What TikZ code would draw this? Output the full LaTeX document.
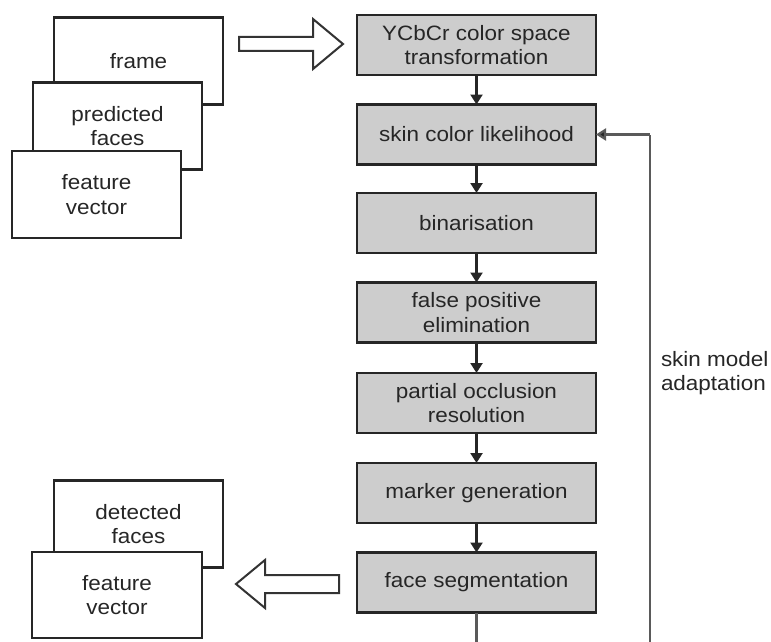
\documentclass[tikz,border=0pt]{standalone}
\usepackage{fontspec}
\setmainfont[FakeStretch=1.08]{Liberation Sans}
\usetikzlibrary{arrows.meta}
\definecolor{boxgray}{RGB}{205,205,205}
\definecolor{txt}{RGB}{38,38,38}
\definecolor{loopgray}{RGB}{90,90,90}
\begin{document}
\begin{tikzpicture}[x=1pt,y=-1pt,
  every node/.style={font=\fontsize{20.8}{24.5}\selectfont, text=txt, align=center, inner sep=0pt, outer sep=0pt},
  stage/.style={draw=black!85, line width=2.6pt, fill=boxgray, minimum width=239pt, minimum height=60pt},
  sheet/.style={draw=black!85, line width=2.6pt, fill=white, minimum width=169pt, minimum height=87pt},
  flow/.style={draw=black!85, line width=2.2pt, -{Triangle[length=10pt,width=12pt]}},
  blockarrow/.style={draw=black!80, line width=2pt, fill=white, line join=miter}]
\useasboundingbox (0,0) rectangle (771,642);
\fill[white] (0,0) rectangle (771,642);

% input sheets, stacked back to front
\node[sheet] (frame) at (138.5,61) {frame};
\node[sheet] (pred) at (117.5,126) {predicted\\faces};
\node[sheet] (feat) at (96.5,194.5) {feature\\vector};

% output sheets
\node[sheet] (det) at (138.5,524) {detected\\faces};
\node[sheet, minimum width=170pt, minimum height=86pt] (featout) at (117,595) {feature\\vector};

% processing chain
\node[stage] (ycc)  at (476.5,45)    {YCbCr color space\\transformation};
\node[stage] (skin) at (476.5,134.5) {skin color likelihood};
\node[stage] (bin)  at (476.5,223)   {binarisation};
\node[stage] (fpe)  at (476.5,312.5) {false positive\\elimination};
\node[stage] (poc)  at (476.5,403)   {partial occlusion\\resolution};
\node[stage] (mark) at (476.5,493)   {marker generation};
\node[stage] (seg)  at (476.5,582.5) {face segmentation};

\draw[flow] (ycc) -- (skin);
\draw[flow] (skin) -- (bin);
\draw[flow] (bin) -- (fpe);
\draw[flow] (fpe) -- (poc);
\draw[flow] (poc) -- (mark);
\draw[flow] (mark) -- (seg);

% hollow block arrows: input in, result out
\draw[blockarrow] (239,37) -- (313,37) -- (313,19) -- (343,44) -- (313,69) -- (313,51) -- (239,51) -- cycle;
\draw[blockarrow] (339,575) -- (265,575) -- (265,560) -- (236,584) -- (265,608) -- (265,593) -- (339,593) -- cycle;

% skin model adaptation loop
\coordinate (loopbottom) at (650,665);
\coordinate (loopright) at (650,134.5);
\begin{scope}
\clip (0,0) rectangle (771,642);
\draw[draw=loopgray, line width=2.2pt] (seg.south) |- (loopbottom) -- (loopright);
\end{scope}
\draw[draw=loopgray, line width=2.2pt, -{Triangle[length=10pt,width=12pt,fill=black!85]}] (loopright) -- (skin.east);
\node[anchor=west, align=left] (adapt) at (661,373) {skin model\\adaptation};
\end{tikzpicture}
\end{document}
